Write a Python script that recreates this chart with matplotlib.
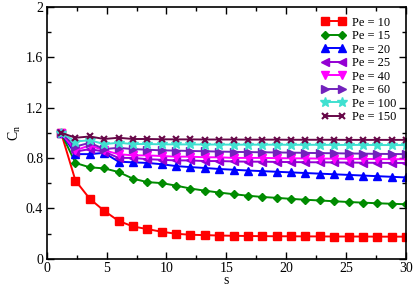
import matplotlib

matplotlib.use("Agg")
import matplotlib.pyplot as plt
from matplotlib.ticker import MultipleLocator

plt.rcParams["font.family"] = ["Liberation Serif", "DejaVu Serif"]
plt.rcParams["mathtext.fontset"] = "custom"
plt.rcParams["mathtext.rm"] = "Liberation Serif"
plt.rcParams["mathtext.it"] = "Liberation Serif"

# sampling points, s = 1.2, 2.4, ... 30
s = [1.2, 2.4, 3.6, 4.8, 6.0, 7.2, 8.4, 9.6, 10.8, 12.0, 13.2, 14.4, 15.6,
     16.8, 18.0, 19.2, 20.4, 21.6, 22.8, 24.0, 25.2, 26.4, 27.6, 28.8, 30.0]

pe10 = [1.0, 0.62, 0.475, 0.38, 0.30, 0.256, 0.235, 0.214, 0.198, 0.19, 0.187,
        0.184, 0.182, 0.18, 0.179, 0.178, 0.178, 0.177, 0.177, 0.176, 0.176,
        0.176, 0.175, 0.175, 0.175]
pe15 = [1.0, 0.76, 0.725, 0.717, 0.688, 0.635, 0.608, 0.60, 0.58, 0.557, 0.54,
        0.525, 0.512, 0.50, 0.49, 0.483, 0.475, 0.468, 0.462, 0.456, 0.45,
        0.445, 0.44, 0.436, 0.432]
pe20 = [1.0, 0.83, 0.83, 0.84, 0.77, 0.765, 0.76, 0.75, 0.735, 0.727, 0.72,
        0.712, 0.706, 0.70, 0.695, 0.69, 0.685, 0.68, 0.675, 0.67, 0.665,
        0.66, 0.655, 0.65, 0.645]
pe25 = [1.0, 0.85, 0.87, 0.85, 0.80, 0.80, 0.79, 0.785, 0.78, 0.78, 0.775,
        0.775, 0.772, 0.77, 0.77, 0.768, 0.767, 0.766, 0.765, 0.764, 0.763,
        0.762, 0.761, 0.76, 0.76]
pe40 = [1.0, 0.86, 0.90, 0.86, 0.83, 0.82, 0.82, 0.815, 0.81, 0.81, 0.805,
        0.805, 0.80, 0.80, 0.80, 0.798, 0.797, 0.796, 0.795, 0.794, 0.793,
        0.792, 0.791, 0.79, 0.79]
pe60 = [1.0, 0.89, 0.92, 0.87, 0.88, 0.87, 0.865, 0.86, 0.858, 0.855, 0.853,
        0.85, 0.848, 0.846, 0.845, 0.843, 0.842, 0.84, 0.838, 0.837, 0.835,
        0.834, 0.832, 0.831, 0.83]
pe100 = [1.0, 0.93, 0.94, 0.91, 0.92, 0.91, 0.91, 0.908, 0.907, 0.907, 0.906,
         0.906, 0.905, 0.905, 0.905, 0.905, 0.904, 0.904, 0.904, 0.903, 0.903,
         0.903, 0.902, 0.902, 0.902]
pe150 = [1.0, 0.96, 0.97, 0.95, 0.96, 0.95, 0.95, 0.948, 0.947, 0.947, 0.946,
         0.946, 0.946, 0.945, 0.945, 0.945, 0.944, 0.944, 0.944, 0.944, 0.943,
         0.943, 0.943, 0.943, 0.943]

labels = ["Pe = 10", "Pe = 15", "Pe = 20", "Pe = 25",
          "Pe = 40", "Pe = 60", "Pe = 100", "Pe = 150"]
values = [pe10, pe15, pe20, pe25, pe40, pe60, pe100, pe150]
colors = ["#ff0000", "#008b00", "#0000ff", "#9400d3",
          "#ff00ff", "#7221bc", "#40e0d0", "#670748"]
markers = ["s", "D", "^", "<", "v", ">", "*", "x"]

fig = plt.figure(figsize=(4.15, 2.87), dpi=100)
ax = fig.add_axes([0.1125, 0.0986, 0.866, 0.878])

for label, vals, color, marker in zip(labels, values, colors, markers):
    ms = 5.5
    mew = 1.0
    if marker == "D":
        ms = 4.5
    if marker == "*":
        ms = 7
    if marker == "x":
        ms = 4.5
        mew = 1.5
    ax.plot(s, vals, color=color, marker=marker, markersize=ms, lw=1.4,
            markeredgewidth=mew, label=label)

ax.set_xlim(0, 30)
ax.set_ylim(0, 2)
ax.xaxis.set_major_locator(MultipleLocator(5))
ax.xaxis.set_minor_locator(MultipleLocator(2.5))
ax.yaxis.set_minor_locator(MultipleLocator(0.2))
ax.set_yticks([0, 0.4, 0.8, 1.2, 1.6, 2.0])
ax.set_yticklabels(["0", "0.4", "0.8", "1.2", "1.6", "2"])
ax.tick_params(which="both", direction="in", top=True, right=True,
               labelsize=10, width=1, pad=2.5)
ax.tick_params(which="major", length=5)
ax.tick_params(which="minor", length=3)
for sp in ax.spines.values():
    sp.set_linewidth(1.2)

ax.set_xlabel("s", fontsize=10, labelpad=-1)
ax.set_ylabel(r"C$_\mathrm{n}$", fontsize=10, labelpad=2)

ax.legend(loc="upper right", frameon=False, numpoints=2, fontsize=9,
          handlelength=1.9, handletextpad=0.5, labelspacing=0.12,
          borderaxespad=0.5, borderpad=0.3)

fig.savefig("out.png", dpi=100)
